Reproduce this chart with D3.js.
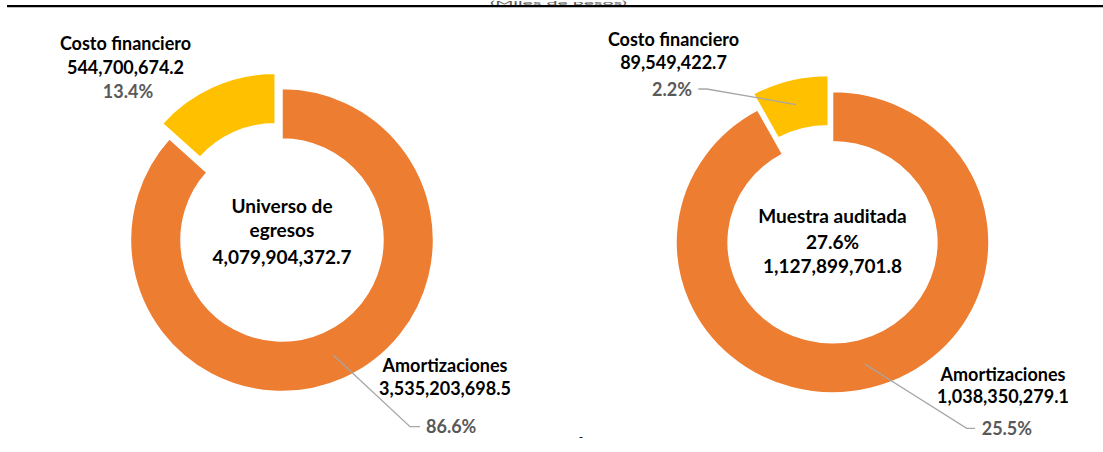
<!DOCTYPE html>
<html>
<head>
<meta charset="utf-8">
<script src="https://cdn.jsdelivr.net/npm/d3@7"></script>
<style>
  html, body { margin: 0; padding: 0; background: #fff; }
  svg { display: block; }
  text { font-family: Lato, "Noto Sans", sans-serif; }
</style>
</head>
<body>
<svg id="chart" width="1103" height="452"></svg>
<script>
// ---------------- DATA ----------------
const categories = ["Amortizaciones", "Costo financiero"];
const universoValues = [3535203698.5, 544700674.2];
const muestraValues = [1038350279.1, 89549422.7];
const universoTitle = ["Universo de", "egresos"];
const muestraTitle = ["Muestra auditada"];
const unitsLabel = "(Miles de pesos)";
const sliceColors = ["#ED7D31", "#FFC000"];

// ---------------- LAYOUT ----------------
const svg = d3.select("#chart");
const fmtNum = d3.format(",.1f");
const fmtPct = d3.format(".1%");
const universoTotal = d3.sum(universoValues);
const muestraTotal = d3.sum(muestraValues);

// top rule and subtitle (squeezed into the thin strip above the rule)
svg.append("text").attr("x", 490).attr("y", 4.6)
  .attr("font-size", 6).attr("fill", "#595959")
  .attr("textLength", 137).attr("lengthAdjust", "spacingAndGlyphs").text(unitsLabel);
svg.append("line").attr("x1", 7).attr("x2", 1103).attr("y1", 6.2).attr("y2", 6.2)
  .attr("stroke", "#000").attr("stroke-width", 2.2);

const charts = [
  {
    cx: 282, cy: 240, R: 151.5, sx: 1, values: universoValues,
    center: [...universoTitle, fmtNum(universoTotal)], centerY: [212.7, 236.5, 263.5],
    labels: [
      { nameX: 445, nameY: [371.7, 395], pctX: 426, pctY: 433.3, pctAnchor: "start",
        elbow: [410, 426.7], end: [420, 426.7] },
      { nameX: 125.5, nameY: [50, 73.5], pctX: 128, pctY: 98, pctAnchor: "middle", elbow: null }
    ]
  },
  {
    cx: 832.5, cy: 242.3, R: 150.7, sx: 1.0385, values: muestraValues,
    center: [...muestraTitle, fmtPct(muestraTotal / universoTotal), fmtNum(muestraTotal)],
    centerY: [223.3, 249.2, 273.3],
    labels: [
      { nameX: 1003, nameY: [380.7, 403.3], pctX: 981.7, pctY: 435, pctAnchor: "start",
        elbow: [966.7, 428.3], end: [975, 428.3] },
      { nameX: 673.5, nameY: [45.7, 68.7], pctX: 672, pctY: 95.7, pctAnchor: "middle",
        elbow: [706.7, 89], end: [698.3, 89] }
    ]
  }
];

const pie = d3.pie().sort(null).value(d => d);

charts.forEach(c => {
  const inner = c.R * 2 / 3;
  const arc = d3.arc().innerRadius(inner).outerRadius(c.R);
  const midArc = d3.arc().innerRadius((c.R + inner) / 2).outerRadius((c.R + inner) / 2);
  const arcs = pie(c.values);
  const explode = c.R * 0.11;

  const g = svg.append("g").attr("transform", `translate(${c.cx},${c.cy}) scale(${c.sx},1)`);
  const offsets = arcs.map((a, i) => {
    if (i !== 1) return [0, 0];
    const m = (a.startAngle + a.endAngle) / 2;
    return [Math.sin(m) * explode, -Math.cos(m) * explode];
  });

  g.selectAll("path").data(arcs).join("path")
    .attr("d", arc)
    .attr("transform", (d, i) => `translate(${offsets[i][0]},${offsets[i][1]})`)
    .attr("fill", (d, i) => sliceColors[i])
    .attr("stroke", "#fff").attr("stroke-width", 1.5);

  // labels
  arcs.forEach((a, i) => {
    const L = c.labels[i];
    const cen = midArc.centroid(a);
    const px = c.cx + (cen[0] + offsets[i][0]) * c.sx;
    const py = c.cy + cen[1] + offsets[i][1];
    if (L.elbow) {
      svg.append("polyline")
        .attr("points", [[px, py], L.elbow, L.end].map(p => p.join(",")).join(" "))
        .attr("fill", "none").attr("stroke", "#A6A6A6").attr("stroke-width", 1.3);
    }
    svg.append("text").attr("x", L.nameX).attr("y", L.nameY[0]).attr("text-anchor", "middle")
      .attr("font-size", 18).attr("font-weight", 700).attr("fill", "#000").text(categories[i]);
    svg.append("text").attr("x", L.nameX).attr("y", L.nameY[1]).attr("text-anchor", "middle")
      .attr("font-size", 18).attr("font-weight", 700).attr("fill", "#000").text(fmtNum(c.values[i]));
    svg.append("text").attr("x", L.pctX).attr("y", L.pctY).attr("text-anchor", L.pctAnchor)
      .attr("font-size", 18).attr("font-weight", 700).attr("fill", "#595959")
      .text(fmtPct(c.values[i] / universoTotal));
  });

  c.center.forEach((t, k) => {
    svg.append("text").attr("x", c.cx).attr("y", c.centerY[k]).attr("text-anchor", "middle")
      .attr("font-size", 19).attr("font-weight", 700).attr("fill", "#000").text(t);
  });
});

// stray mark below the charts
svg.append("text").attr("x", 581).attr("y", 441).attr("text-anchor", "middle")
  .attr("font-size", 12).attr("fill", "#000").text("-");
</script>
</body>
</html>
